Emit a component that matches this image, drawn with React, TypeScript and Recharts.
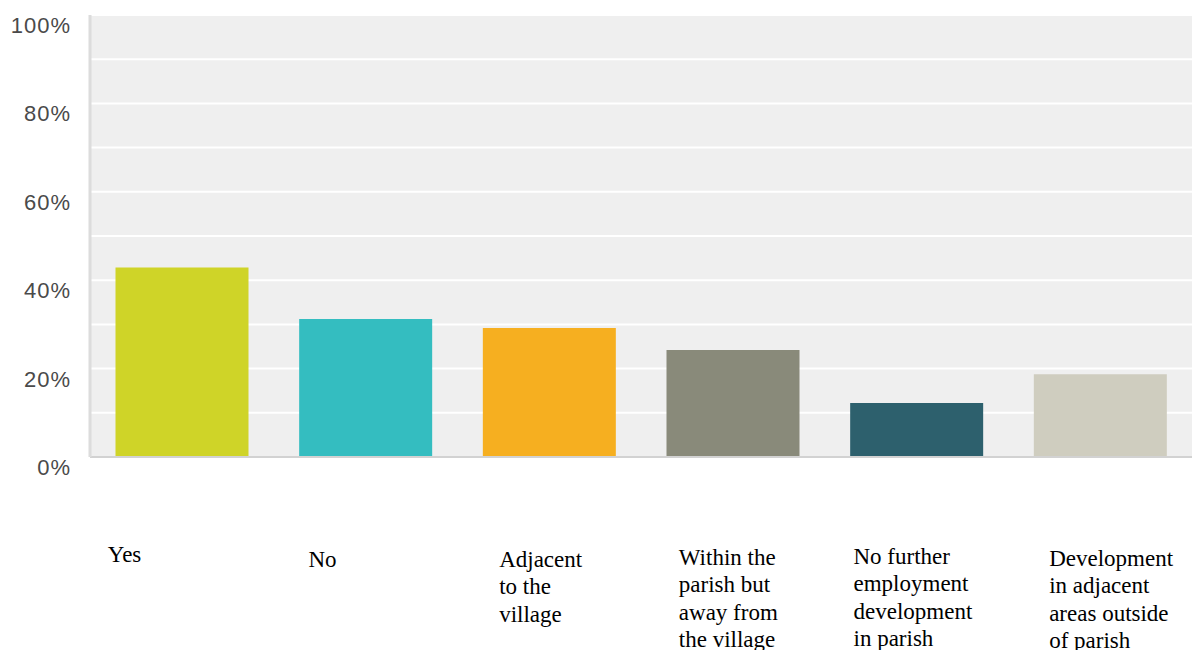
import React from "react";
import { BarChart, Bar, Cell, XAxis, YAxis, CartesianGrid } from "recharts";

const categories = [
  "Yes",
  "No",
  "Adjacent\nto the\nvillage",
  "Within the\nparish but\naway from\nthe village",
  "No further\nemployment\ndevelopment\nin parish",
  "Development\nin adjacent\nareas outside\nof parish",
];
const values = [42.9, 31.2, 29.2, 24.2, 12.2, 18.7];
const colors = ["#cfd428", "#34bdc0", "#f6af20", "#898a7a", "#2d606d", "#cfcdbf"];
const yTicks = [0, 10, 20, 30, 40, 50, 60, 70, 80, 90, 100];

const data = categories.map((name, i) => ({ name, value: values[i] }));

/* label nudges, the source labels were hand-placed text boxes */
const LABEL_DX = [-74, -57, -50, -54, -63, -51];
const LABEL_DY = [105, 110, 110, 108, 107, 109];
const LINE_H = 27.4;

function YTick({ x, y, payload }: any) {
  if (payload.value % 20 !== 0) return null;
  return (
    <text
      x={x}
      y={y + 18}
      textAnchor="end"
      fill="#4a4a4a"
      fontSize={22}
      letterSpacing={1}
      fontFamily="'Liberation Sans', Arial, sans-serif"
    >
      {payload.value}%
    </text>
  );
}

function XTick({ x, y, payload, index }: any) {
  const lines = String(payload.value).split("\n");
  const left = x + LABEL_DX[index];
  const base = y + LABEL_DY[index];
  return (
    <text fill="#000" fontSize={23} fontFamily="'Liberation Serif', 'Times New Roman', serif" textAnchor="start">
      {lines.map((ln, i) => (
        <tspan key={i} x={left} y={base + i * LINE_H}>
          {ln}
        </tspan>
      ))}
    </text>
  );
}

export default function App() {
  return (
    <div style={{ position: "absolute", left: 0, top: 0, width: 1192, height: 650, background: "#fff" }}>
      <BarChart
        width={1192}
        height={650}
        data={data}
        margin={{ top: 15, right: 0, bottom: 0, left: 0 }}
        barCategoryGap={25.5}
      >
        <CartesianGrid vertical={false} stroke="#fff" strokeWidth={2} fill="#efefef" />
        <XAxis
          dataKey="name"
          height={193}
          interval={0}
          tickLine={false}
          tickSize={0}
          tickMargin={0}
          axisLine={{ stroke: "#d2d2d2", strokeWidth: 2 }}
          tick={<XTick />}
        />
        <YAxis
          width={90}
          domain={[0, 100]}
          ticks={yTicks}
          interval={0}
          tickLine={false}
          tickSize={0}
          tickMargin={19}
          axisLine={{ stroke: "#dcdcdc", strokeWidth: 3 }}
          tick={<YTick />}
        />
        <Bar dataKey="value" isAnimationActive={false}>
          {data.map((d, i) => (
            <Cell key={d.name} fill={colors[i]} />
          ))}
        </Bar>
      </BarChart>
    </div>
  );
}
